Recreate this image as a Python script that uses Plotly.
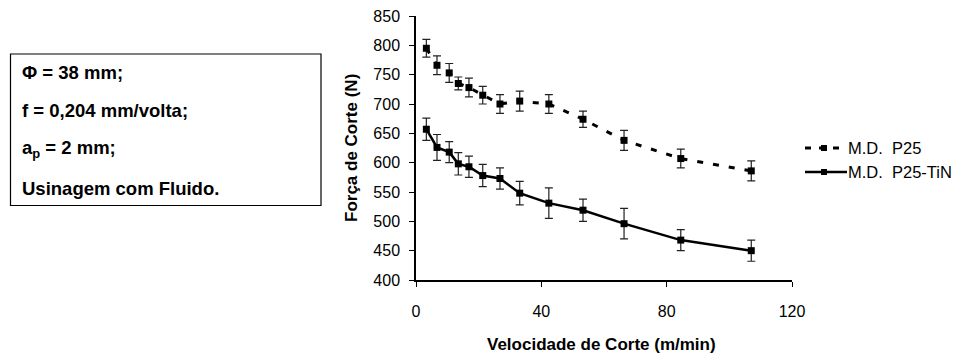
import plotly.graph_objects as go

# Data
vc = [3.3, 6.7, 10.6, 13.5, 16.9, 21.3, 26.8, 33.1, 42.4, 53.3, 66.4, 84.5, 107.0]
p25 = [795, 766, 753, 735, 728, 715, 700, 705, 700, 674, 638, 607, 586]
p25_err = [15, 16, 16, 11, 16, 15, 16, 17, 16, 14, 17, 16, 17]
tin = [657, 626, 618, 598, 593, 578, 573, 548, 531, 519, 496, 468, 450]
tin_err = [19, 22, 18, 19, 18, 19, 18, 20, 26, 19, 26, 18, 18]

series_names = ["M.D.  P25", "M.D.  P25-TiN"]
x_ticks = [0, 40, 80, 120]
y_ticks = [400, 450, 500, 550, 600, 650, 700, 750, 800, 850]
info_lines = ["<b>Φ = 38 mm;</b>", "<b>f = 0,204 mm/volta;</b>",
              "<b>a<sub>p</sub> = 2 mm;</b>", "<b>Usinagem com Fluido.</b>"]

FONT = "Liberation Sans, Arial, sans-serif"
W, H = 958, 356
L, R, T, B = 416, 166, 16, 76
pw, ph = W - L - R, H - T - B


def px(xp):
    return (xp - L) / pw


def py(yp):
    return (H - B - yp) / ph


fig = go.Figure()
fig.add_trace(go.Scatter(
    x=vc, y=p25, name=series_names[0], mode="lines+markers",
    line=dict(color="black", width=3, dash="6px,10px"),
    marker=dict(symbol="square", size=7, color="black"),
    error_y=dict(type="data", array=p25_err, color="#222", thickness=1.2, width=4),
    showlegend=False,
))
fig.add_trace(go.Scatter(
    x=vc, y=tin, name=series_names[1], mode="lines+markers",
    line=dict(color="black", width=2.5),
    marker=dict(symbol="square", size=7, color="black"),
    error_y=dict(type="data", array=tin_err, color="#222", thickness=1.2, width=4),
    showlegend=False,
))

axis_common = dict(showgrid=False, zeroline=False, showline=True, linecolor="black",
                   linewidth=1.5, ticks="outside", ticklen=5, tickcolor="black",
                   automargin=False,
                   tickfont=dict(family=FONT, size=16, color="black"))
fig.update_xaxes(range=[0, 120], tickvals=x_ticks, ticklabelstandoff=11, **axis_common)
fig.update_yaxes(range=[400, 850], tickvals=y_ticks, ticklabelstandoff=6, **axis_common)

annotations = [
    dict(text="<b>Velocidade de Corte (m/min)</b>", x=px(601), y=py(344),
         xref="paper", yref="paper", showarrow=False,
         font=dict(family=FONT, size=17, color="black"), xanchor="center", yanchor="middle"),
    dict(text="<b>Força de Corte (N)</b>", x=px(351), y=py(148),
         xref="paper", yref="paper", showarrow=False, textangle=-90,
         font=dict(family=FONT, size=17, color="black"), xanchor="center", yanchor="middle"),
]
for txt, yc in zip(info_lines, [72, 110, 149, 188]):
    annotations.append(dict(text=txt, x=px(20), y=py(yc), xref="paper", yref="paper",
                            showarrow=False, xanchor="left", yanchor="middle",
                            font=dict(family=FONT, size=18.5, color="black")))

# Manual legend (text + sample line + marker)
legend_rows = [148, 172]
for name, yc in zip(series_names, legend_rows):
    annotations.append(dict(text=name, x=px(846), y=py(yc), xref="paper", yref="paper",
                            showarrow=False, xanchor="left", yanchor="middle",
                            font=dict(family=FONT, size=16.5, color="black")))

shapes = [dict(type="rect", xref="paper", yref="paper",
               x0=px(10.5), x1=px(321), y0=py(205.5), y1=py(54),
               line=dict(color="black", width=1.2), fillcolor="rgba(0,0,0,0)")]
# legend samples
shapes.append(dict(type="line", xref="paper", yref="paper",
                   x0=px(805), x1=px(845), y0=py(legend_rows[0]), y1=py(legend_rows[0]),
                   line=dict(color="black", width=3, dash="6px,8px")))
shapes.append(dict(type="line", xref="paper", yref="paper",
                   x0=px(805), x1=px(847), y0=py(legend_rows[1]), y1=py(legend_rows[1]),
                   line=dict(color="black", width=2.5)))
for yc in legend_rows:
    shapes.append(dict(type="rect", xref="paper", yref="paper",
                       x0=px(821), x1=px(827), y0=py(yc + 3), y1=py(yc - 3),
                       line=dict(width=0), fillcolor="black"))

fig.update_layout(
    width=W, height=H, margin=dict(l=L, r=R, t=T, b=B, autoexpand=False),
    paper_bgcolor="white", plot_bgcolor="white",
    showlegend=False,
    annotations=annotations,
    shapes=shapes,
)

fig.write_html("out.html", config={"displayModeBar": False},
               post_script="document.body.style.margin='0';")
